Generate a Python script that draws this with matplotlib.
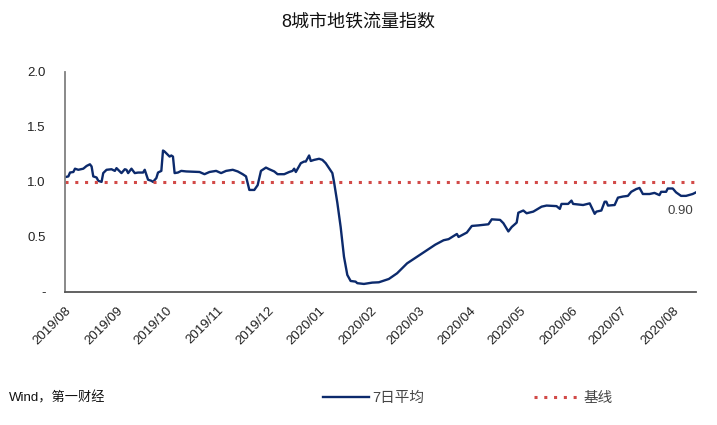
import pandas as pd
import matplotlib.pyplot as plt
import matplotlib.dates as mdates

plt.rcParams['font.family'] = ['Liberation Sans', 'Noto Sans CJK SC']

# 7日平均
dates = [
    '2019-08-01', '2019-08-03', '2019-08-04', '2019-08-06', '2019-08-07', '2019-08-09',
    '2019-08-12', '2019-08-14', '2019-08-16', '2019-08-17', '2019-08-18', '2019-08-20',
    '2019-08-21', '2019-08-23', '2019-08-24', '2019-08-26', '2019-08-29', '2019-08-31',
    '2019-09-01', '2019-09-04', '2019-09-06', '2019-09-07', '2019-09-08', '2019-09-10',
    '2019-09-12', '2019-09-14', '2019-09-17', '2019-09-18', '2019-09-20', '2019-09-22',
    '2019-09-23', '2019-09-25', '2019-09-26', '2019-09-28', '2019-09-29', '2019-09-30',
    '2019-10-02', '2019-10-03', '2019-10-04', '2019-10-05', '2019-10-06', '2019-10-08',
    '2019-10-10', '2019-10-13', '2019-10-21', '2019-10-24', '2019-10-27', '2019-10-31',
    '2019-11-03', '2019-11-06', '2019-11-10', '2019-11-13', '2019-11-16', '2019-11-18',
    '2019-11-20', '2019-11-23', '2019-11-25', '2019-11-27', '2019-11-30', '2019-12-02',
    '2019-12-05', '2019-12-07', '2019-12-11', '2019-12-14', '2019-12-16', '2019-12-17',
    '2019-12-18', '2019-12-21', '2019-12-23', '2019-12-24', '2019-12-26', '2019-12-27',
    '2019-12-29', '2020-01-01', '2020-01-03', '2020-01-05', '2020-01-07', '2020-01-09',
    '2020-01-10', '2020-01-12', '2020-01-14', '2020-01-16', '2020-01-18', '2020-01-20',
    '2020-01-23', '2020-01-24', '2020-01-28', '2020-02-02', '2020-02-06', '2020-02-12',
    '2020-02-17', '2020-02-23', '2020-02-29', '2020-03-05', '2020-03-11', '2020-03-16',
    '2020-03-19', '2020-03-24', '2020-03-25', '2020-03-30', '2020-04-02', '2020-04-06',
    '2020-04-12', '2020-04-14', '2020-04-19', '2020-04-21', '2020-04-24', '2020-04-26',
    '2020-04-29', '2020-04-30', '2020-05-03', '2020-05-05', '2020-05-09', '2020-05-14',
    '2020-05-17', '2020-05-23', '2020-05-25', '2020-05-26', '2020-05-30', '2020-06-01',
    '2020-06-02', '2020-06-08', '2020-06-12', '2020-06-15', '2020-06-16', '2020-06-19',
    '2020-06-21', '2020-06-22', '2020-06-23', '2020-06-27', '2020-06-29', '2020-07-02',
    '2020-07-05', '2020-07-07', '2020-07-10', '2020-07-12', '2020-07-14', '2020-07-18',
    '2020-07-21', '2020-07-24', '2020-07-25', '2020-07-28', '2020-07-29', '2020-08-01',
    '2020-08-03', '2020-08-06', '2020-08-09', '2020-08-13', '2020-08-15',
]
avg7 = [
    1.043, 1.05, 1.085, 1.09, 1.12, 1.11,
    1.12, 1.145, 1.16, 1.14, 1.05, 1.04,
    1.01, 1.0, 1.08, 1.11, 1.115, 1.10,
    1.125, 1.08, 1.115, 1.11, 1.08, 1.12,
    1.08, 1.085, 1.085, 1.11, 1.02, 1.01,
    1.0, 1.035, 1.085, 1.10, 1.285, 1.275,
    1.245, 1.23, 1.24, 1.23, 1.08, 1.085,
    1.10, 1.095, 1.09, 1.07, 1.09, 1.10,
    1.08, 1.10, 1.11, 1.095, 1.07, 1.05,
    0.927, 0.927, 0.97, 1.10, 1.13, 1.115,
    1.095, 1.07, 1.07, 1.09, 1.10, 1.12,
    1.09, 1.17, 1.185, 1.185, 1.24, 1.19,
    1.20, 1.21, 1.20, 1.17, 1.125, 1.08,
    1.0, 0.81, 0.59, 0.32, 0.155, 0.10,
    0.094, 0.08, 0.073, 0.085, 0.088, 0.118,
    0.17, 0.26, 0.32, 0.37, 0.43, 0.47,
    0.48, 0.527, 0.50, 0.54, 0.60, 0.605,
    0.615, 0.66, 0.655, 0.625, 0.55, 0.59,
    0.63, 0.72, 0.74, 0.715, 0.73, 0.775,
    0.785, 0.78, 0.755, 0.80, 0.80, 0.83,
    0.80, 0.79, 0.805, 0.71, 0.73, 0.74,
    0.82, 0.82, 0.785, 0.79, 0.857, 0.867,
    0.873, 0.91, 0.935, 0.945, 0.89, 0.89,
    0.90, 0.88, 0.91, 0.91, 0.94, 0.94,
    0.905, 0.873, 0.873, 0.89, 0.905,
]
baseline = 1.0
last_label = '0.90'

y_ticks = [0, 0.5, 1.0, 1.5, 2.0]
y_labels = ['-', '0.5', '1.0', '1.5', '2.0']

dates = pd.to_datetime(dates)

fig = plt.figure(figsize=(7.17, 4.25), dpi=100)
ax = fig.add_axes([0.0907, 0.313, 0.880, 0.518])

line, = ax.plot(dates, avg7, color='#0c2a6c', linewidth=1.7, label='7日平均')
base = ax.axhline(baseline, color='#d24a48', linestyle=(0, (1, 2.2)),
                  linewidth=2.2, label='基线')

ax.annotate(last_label, xy=(dates[-1], avg7[-1]), xytext=(-16, -19),
            textcoords='offset pixels', ha='center', va='center',
            fontsize=9.5, color='#404040')

ax.set_xlim(dates[0], dates[-1])
ax.set_ylim(0, 2.0)
ax.set_yticks(y_ticks)
ax.set_yticklabels(y_labels)
ax.xaxis.set_major_locator(mdates.MonthLocator())
ax.xaxis.set_major_formatter(mdates.DateFormatter('%Y/%m'))
plt.setp(ax.get_xticklabels(), rotation=45, ha='right', rotation_mode='anchor')
ax.tick_params(axis='y', length=0, pad=14, labelsize=9.5, colors='#222222')
ax.tick_params(axis='x', length=0, pad=9, labelsize=9.5, colors='#222222')

for s in ['top', 'right']:
    ax.spines[s].set_visible(False)
ax.spines['left'].set_color('#808080')
ax.spines['bottom'].set_color('#555555')
ax.spines['left'].set_linewidth(1.3)
ax.spines['bottom'].set_linewidth(1.3)

fig.text(0.5, 0.947, '8城市地铁流量指数', ha='center', va='center',
         fontsize=13, color='#111111')
fig.text(0.013, 0.064, 'Wind，第一财经', ha='left', va='center',
         fontsize=9.5, color='#111111')

fig.legend(handles=[line, base], loc='center', bbox_to_anchor=(0.652, 0.064),
           ncol=2, frameon=False, fontsize=10.5, handlelength=3.2,
           handletextpad=0.2, columnspacing=7.5, labelcolor='#444444')

fig.savefig('out.png', dpi=100)
